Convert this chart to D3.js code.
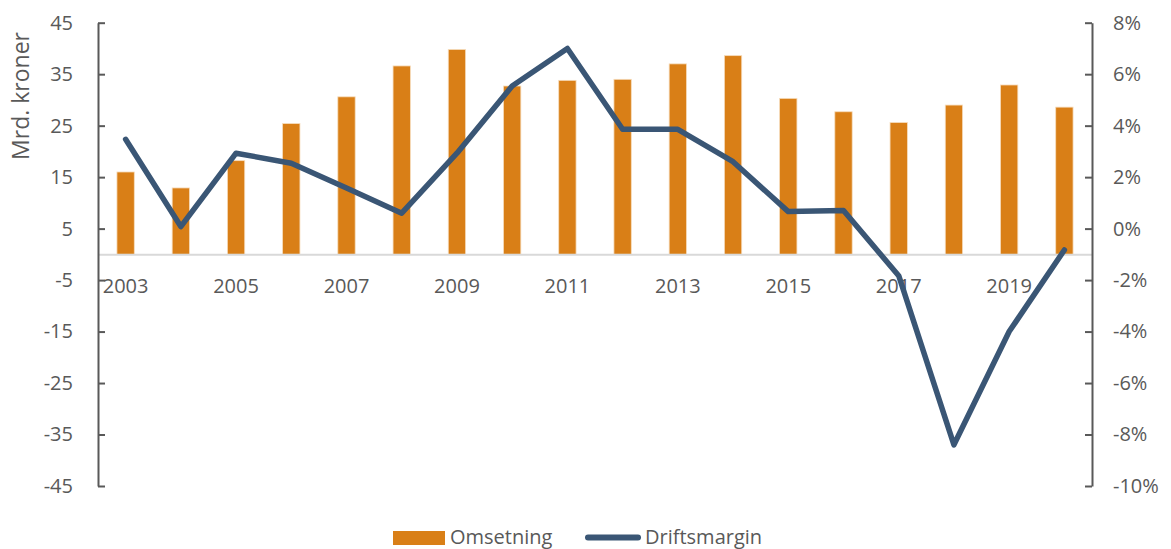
<!DOCTYPE html>
<html>
<head>
<meta charset="utf-8">
<script src="https://cdn.jsdelivr.net/npm/d3@7"></script>
<style>
  body { margin: 0; background: #fff; }
  svg text { font-family: "Open Sans", sans-serif; fill: #595959; }
</style>
</head>
<body>
<div id="chart"></div>
<script>
const years = ["2003", "2004", "2005", "2006", "2007", "2008", "2009", "2010", "2011",
    "2012", "2013", "2014", "2015", "2016", "2017", "2018", "2019", "2020"];
const omsetning = [16.0, 12.9, 18.2, 25.4, 30.6, 36.6, 39.8, 32.7, 33.8,
    34.0, 37.0, 38.6, 30.3, 27.7, 25.6, 29.0, 32.9, 28.6];
const driftsmargin = [3.47, 0.08, 2.93, 2.54, 1.58, 0.60, 2.93, 5.54, 7.0,
    3.86, 3.86, 2.60, 0.66, 0.70, -1.83, -8.40, -4.0, -0.83];
const leftTicks = [45, 35, 25, 15, 5, -5, -15, -25, -35, -45];
const rightTicks = [8, 6, 4, 2, 0, -2, -4, -6, -8, -10];
const yearLabels = ["2003", "2005", "2007", "2009", "2011", "2013", "2015", "2017", "2019"];

const width = 1171, height = 549;
const margin = { top: 22.7, right: 79, bottom: 63, left: 98 };
const barColor = "#d97f17";
const lineColor = "#3a5675";

const data = years.map((y, i) => ({ year: y, value: omsetning[i], margin: driftsmargin[i] }));

let x = d3.scaleBand()
    .domain(years)
    .range([margin.left, width - margin.right])
    .paddingInner(0.686)
    .paddingOuter(0.343);

let y = d3.scaleLinear()
    .domain([-45, 45])
    .range([height - margin.bottom, margin.top]);

let y2 = d3.scaleLinear()
    .domain([-10, 8])
    .range([height - margin.bottom, margin.top]);

const svg = d3.select("#chart")
    .append("svg")
    .attr("width", width)
    .attr("height", height);

// bars
svg.append("g")
    .selectAll("rect")
    .data(data)
    .join("rect")
    .attr("x", d => x(d.year))
    .attr("y", d => y(d.value))
    .attr("width", x.bandwidth())
    .attr("height", d => y(0) - y(d.value))
    .attr("fill", barColor)
    .attr("stroke", "#f6dcbc")
    .attr("stroke-width", 0.8);

// zero line / x axis
svg.append("g")
    .attr("transform", `translate(0,${y(0)})`)
    .call(d3.axisBottom(x).tickValues(yearLabels).tickSize(0).tickPadding(24.5))
    .call(g => g.select(".domain").attr("stroke", "#d9d9d9").attr("stroke-width", 2))
    .call(g => g.selectAll("text").attr("font-size", 20).style("font-family", "Open Sans"));

// left axis
svg.append("g")
    .attr("transform", `translate(${margin.left},0)`)
    .call(d3.axisLeft(y).tickValues(leftTicks).tickSize(-7).tickSizeOuter(0).tickPadding(25)
        .tickFormat(d => String(d)))
    .call(g => g.select(".domain").attr("stroke", "#595959").attr("stroke-width", 2))
    .call(g => g.selectAll(".tick line").attr("stroke", "#595959").attr("stroke-width", 2))
    .call(g => g.selectAll("text").attr("font-size", 20).style("font-family", "Open Sans"));

// right axis
svg.append("g")
    .attr("transform", `translate(${width - margin.right},0)`)
    .call(d3.axisRight(y2).tickValues(rightTicks).tickSize(-7).tickSizeOuter(0).tickPadding(21)
        .tickFormat(d => String(d) + "%"))
    .call(g => g.select(".domain").attr("stroke", "#595959").attr("stroke-width", 2))
    .call(g => g.selectAll(".tick line").attr("stroke", "#595959").attr("stroke-width", 2))
    .call(g => g.selectAll("text").attr("font-size", 20).style("font-family", "Open Sans"));

// line
const line = d3.line()
    .x(d => x(d.year) + x.bandwidth() / 2)
    .y(d => y2(d.margin));

svg.append("path")
    .datum(data)
    .attr("fill", "none")
    .attr("stroke", lineColor)
    .attr("stroke-width", 5.5)
    .attr("stroke-linejoin", "round")
    .attr("stroke-linecap", "round")
    .attr("d", line);

// y title
svg.append("text")
    .attr("transform", "translate(29,96) rotate(-90)")
    .attr("text-anchor", "middle")
    .attr("font-size", 23)
    .text("Mrd. kroner");

// legend
const legend = svg.append("g");
legend.append("rect")
    .attr("x", 393).attr("y", 531)
    .attr("width", 52).attr("height", 14)
    .attr("fill", barColor);
legend.append("text")
    .attr("x", 450).attr("y", 543.5)
    .attr("font-size", 20)
    .text("Omsetning");
legend.append("line")
    .attr("x1", 588).attr("x2", 638)
    .attr("y1", 537.5).attr("y2", 537.5)
    .attr("stroke", lineColor)
    .attr("stroke-width", 6)
    .attr("stroke-linecap", "round");
legend.append("text")
    .attr("x", 645).attr("y", 543.5)
    .attr("font-size", 20)
    .text("Driftsmargin");
</script>
</body>
</html>
